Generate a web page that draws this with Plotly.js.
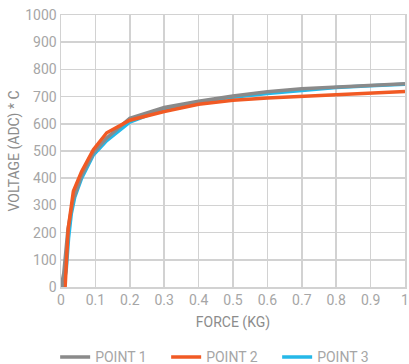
<!DOCTYPE html>
<html>
<head>
<meta charset="utf-8">
<script src="https://cdn.plot.ly/plotly-3.0.1.min.js"></script>
<style>html,body{margin:0;padding:0;background:#fff;}#chart{width:409px;height:364px;}</style>
</head>
<body>
<div id="chart"></div>
<script>
// Point 1 (gray)
var p1x = [0, 0.008, 0.02, 0.035, 0.06, 0.094, 0.133, 0.2, 0.3, 0.4, 0.5, 0.6, 0.7, 0.8, 0.9, 1.0];
var p1y = [0, 50, 210, 320, 410, 493, 548, 620, 660, 683, 702, 718, 729, 735, 741, 747];
// Point 2 (orange)
var p2x = [0.012, 0.016, 0.021, 0.036, 0.06, 0.094, 0.133, 0.2, 0.3, 0.4, 0.5, 0.6, 0.7, 0.8, 0.9, 1.0];
var p2y = [0, 110, 215, 352, 425, 505, 567, 613, 645, 672, 687, 695, 701, 707, 713, 719];
// Point 3 (cyan)
var p3x = [0.005, 0.015, 0.022, 0.03, 0.04, 0.06, 0.094, 0.133, 0.2, 0.3, 0.4, 0.5, 0.6, 0.7, 0.8, 0.9, 1.0];
var p3y = [0, 60, 180, 270, 330, 400, 485, 538, 606, 655, 680, 698, 711, 723, 733, 740, 745];

var seriesNames = ['POINT 1', 'POINT 2', 'POINT 3'];
var colors = ['#8a8a8a', '#f15a24', '#25b8e8'];

var traces = [
  {x: p3x, y: p3y, name: seriesNames[2], legendrank: 3, mode: 'lines', line: {color: colors[2], width: 3.5}},
  {x: p1x, y: p1y, name: seriesNames[0], legendrank: 1, mode: 'lines', line: {color: colors[0], width: 3.5}},
  {x: p2x, y: p2y, name: seriesNames[1], legendrank: 2, mode: 'lines', line: {color: colors[1], width: 3.5}}
];

var gridColor = '#d2d2d2';
var layout = {
  width: 409, height: 364,
  margin: {l: 61, r: 4, t: 15, b: 77, autoexpand: false},
  paper_bgcolor: '#fff', plot_bgcolor: '#fff',
  font: {family: 'Roboto, sans-serif', size: 14, color: '#a6a6a6'},
  xaxis: {
    range: [0, 1], dtick: 0.1, tick0: 0, showgrid: true, gridcolor: gridColor, gridwidth: 1.5,
    zeroline: false, showline: true, linecolor: gridColor, linewidth: 1.5, mirror: true,
    ticks: '', ticklen: 0, tickfont: {size: 14, color: '#a6a6a6'}, automargin: false,
    title: {text: 'FORCE (KG)', font: {size: 14, color: '#8c8c8c'}, standoff: 10}
  },
  yaxis: {
    range: [0, 1000], dtick: 100, tick0: 0, showgrid: true, gridcolor: gridColor, gridwidth: 1.5,
    zeroline: false, showline: true, linecolor: gridColor, linewidth: 1.5, mirror: true,
    ticks: '', tickfont: {size: 14, color: '#a6a6a6'}, automargin: false,
    title: {text: 'VOLTAGE (ADC) * C', font: {size: 14, color: '#8c8c8c'}, standoff: 2}
  },
  showlegend: true,
  legend: {
    orientation: 'h', x: -0.017, xanchor: 'left', y: -0.2, yanchor: 'top',
    font: {size: 14, color: '#a6a6a6'}, traceorder: 'normal',
    entrywidth: 66, entrywidthmode: 'pixels'
  }
};

Plotly.newPlot('chart', traces, layout, {displayModeBar: false, staticPlot: true});
</script>
</body>
</html>
